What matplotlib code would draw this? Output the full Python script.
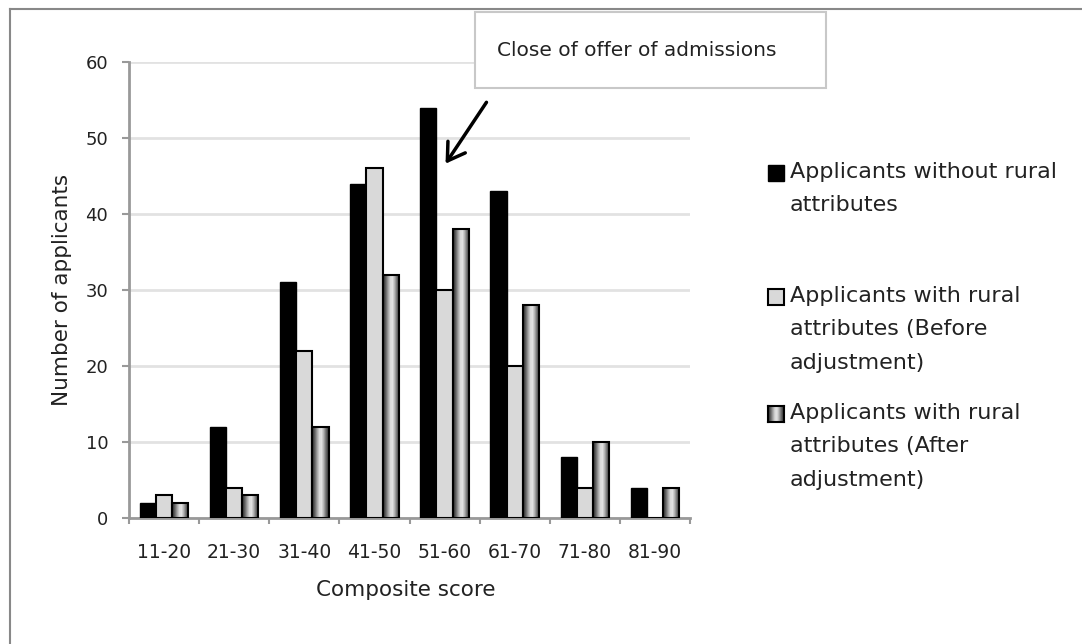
import numpy as np
import matplotlib
matplotlib.use("Agg")
import matplotlib.pyplot as plt
from matplotlib.patches import Rectangle, FancyArrowPatch
from matplotlib.lines import Line2D

# score bands and applicant counts
bands = ['11-20', '21-30', '31-40', '41-50', '51-60', '61-70', '71-80', '81-90']
no_rural = [2, 12, 31, 44, 54, 43, 8, 4]
rural_before = [3, 4, 22, 46, 30, 20, 4, 0]
rural_after = [2, 3, 12, 32, 38, 28, 10, 4]

labels = ['Applicants without rural\nattributes',
          'Applicants with rural\nattributes (Before\nadjustment)',
          'Applicants with rural\nattributes (After\nadjustment)']

W, H = 1082, 644
fig = plt.figure(figsize=(W / 100, H / 100), dpi=100)
plt.rcParams['font.family'] = ['DejaVu Sans']
txt = '#222222'

def fx(px):
    return px / W

def fy(py):
    return 1 - py / H

ax = fig.add_axes([fx(129), fy(518), fx(690) - fx(129), fy(62) - fy(518)])

x = np.arange(len(bands))
bw = 0.23
grad = np.array([[0.22, 0.42, 0.65, 0.85, 0.88, 0.7, 0.45, 0.25]])

ax.bar(x - bw, no_rural, bw, color='black', edgecolor='black', lw=1, zorder=3)
ax.bar(x, rural_before, bw, color='#d9d9d9', edgecolor='black', lw=1.5, zorder=3)
for xi, h in zip(x + bw, rural_after):
    if h <= 0:
        continue
    ax.imshow(grad, extent=[xi - bw / 2, xi + bw / 2, 0, h], aspect='auto',
              cmap='gray', vmin=0, vmax=1, interpolation='bilinear', zorder=3)
ax.bar(x + bw, rural_after, bw, facecolor='none', edgecolor='black', lw=1.5, zorder=4)

ax.set_xlim(-0.5, len(bands) - 0.5)
ax.set_ylim(0, 60)
ax.set_yticks(range(0, 61, 10))
ax.yaxis.grid(True, color='#e2e2e2', lw=2)
ax.set_axisbelow(True)

ax.set_xticks(np.arange(-0.5, len(bands), 1))
ax.set_xticklabels([])
ax.set_xticks(x, minor=True)
ax.set_xticklabels(bands, minor=True)
ax.tick_params(axis='x', which='minor', length=0, pad=18, labelsize=13.5, labelcolor=txt)
ax.tick_params(axis='x', which='major', length=4.5, width=1.5, color='#999999')
ax.tick_params(axis='y', length=5, width=1.5, color='#999999', labelsize=13,
               labelcolor=txt, pad=10)

for s in ['top', 'right']:
    ax.spines[s].set_visible(False)
for s in ['left', 'bottom']:
    ax.spines[s].set_color('#999999')
    ax.spines[s].set_linewidth(2)

ax.set_xlabel('Composite score', fontsize=15.5, color=txt, va='center')
ax.set_ylabel('Number of applicants', fontsize=15.5, color=txt, va='center')
ax.xaxis.set_label_coords(0.494, -0.158)
ax.yaxis.set_label_coords(-0.119, 0.5)

# callout box and arrow
fig.add_artist(Rectangle((fx(475), fy(88)), fx(826) - fx(475), fy(12) - fy(88),
                         transform=fig.transFigure, facecolor='white',
                         edgecolor='#c8c8c8', lw=1.5, zorder=5))
fig.text(fx(497), fy(51), 'Close of offer of admissions', fontsize=14.5,
         color=txt, va='center', ha='left', zorder=6)
fig.add_artist(FancyArrowPatch(
    (fx(488), fy(100)), (fx(444), fy(166)), transform=fig.transFigure,
    arrowstyle='->,head_length=8,head_width=5', color='black', lw=2.5,
    mutation_scale=1.5, zorder=6))

# legend drawn by hand on the right
legend_rows = [173, 297, 414]
for i, (lab, row) in enumerate(zip(labels, legend_rows)):
    fig.text(fx(790), fy(row - 11), lab, fontsize=16, color=txt,
             va='top', ha='left', linespacing=1.84)
    px0, py0 = 768, row - 8
    if i == 0:
        fig.add_artist(Rectangle((fx(px0), fy(py0 + 16)), fx(16), 16 / H,
                                 transform=fig.transFigure, facecolor='black',
                                 edgecolor='black', lw=1))
    elif i == 1:
        fig.add_artist(Rectangle((fx(px0), fy(py0 + 16)), fx(16), 16 / H,
                                 transform=fig.transFigure, facecolor='#d9d9d9',
                                 edgecolor='black', lw=1.5))
    else:
        lax = fig.add_axes([fx(px0), fy(py0 + 16), fx(16), 16 / H])
        lax.imshow(grad, aspect='auto', cmap='gray', vmin=0, vmax=1,
                   interpolation='bilinear')
        lax.set_xticks([])
        lax.set_yticks([])
        for s in lax.spines.values():
            s.set_linewidth(1.5)

# outer frame
fig.add_artist(Line2D([fx(10), fx(10)], [0, fy(9)], transform=fig.transFigure,
                      color='#888888', lw=1.5))
fig.add_artist(Line2D([fx(10), 1], [fy(9), fy(9)], transform=fig.transFigure,
                      color='#888888', lw=1.5))

fig.savefig('out.png', dpi=100)
